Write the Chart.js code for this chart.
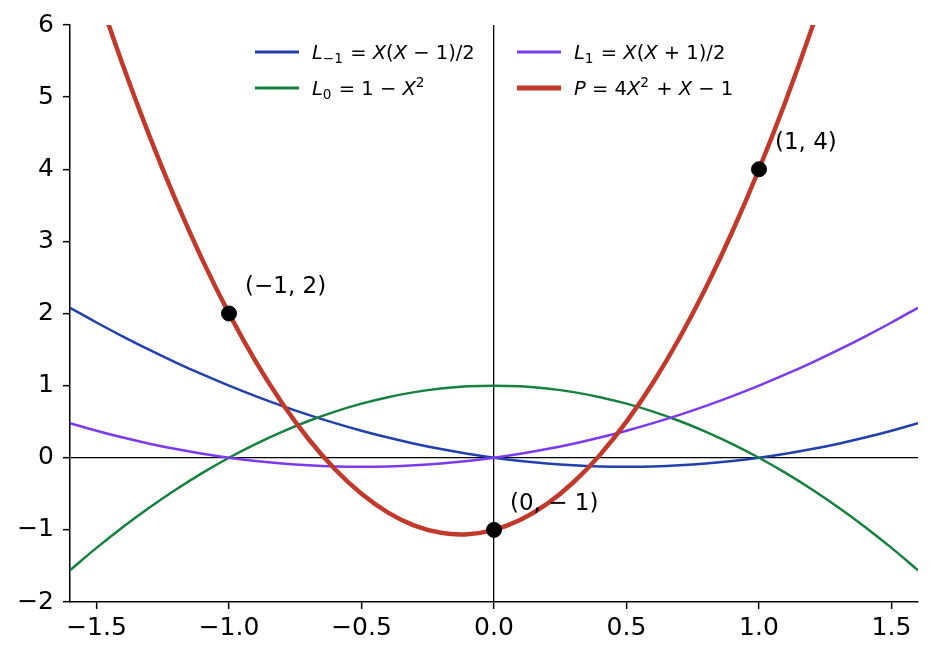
<!DOCTYPE html>
<html>
<head>
<meta charset="utf-8">
<script src="https://cdn.jsdelivr.net/npm/chart.js@4.4.1/dist/chart.umd.min.js"></script>
<style>
  html, body { margin: 0; padding: 0; background: #fff; }
  #wrap { width: 933px; height: 659px; }
</style>
</head>
<body>
<div id="wrap"><canvas id="lagrange" width="933" height="659"></canvas></div>
<script>
// sample positions along X
const xs = [-1.6, -1.5, -1.4, -1.3, -1.2, -1.1, -1.0, -0.9, -0.8, -0.7, -0.6, -0.5, -0.4, -0.3, -0.2, -0.1, 0,
            0.1, 0.2, 0.3, 0.4, 0.5, 0.6, 0.7, 0.8, 0.9, 1.0, 1.1, 1.2, 1.3, 1.4, 1.5, 1.6];

// curves
const lMinus1 = [2.08, 1.875, 1.68, 1.495, 1.32, 1.155, 1.0, 0.855, 0.72, 0.595, 0.48, 0.375, 0.28, 0.195, 0.12, 0.055, 0,
                 -0.045, -0.08, -0.105, -0.12, -0.125, -0.12, -0.105, -0.08, -0.045, 0, 0.055, 0.12, 0.195, 0.28, 0.375, 0.48];
const lZero = [-1.56, -1.25, -0.96, -0.69, -0.44, -0.21, 0, 0.19, 0.36, 0.51, 0.64, 0.75, 0.84, 0.91, 0.96, 0.99, 1.0,
               0.99, 0.96, 0.91, 0.84, 0.75, 0.64, 0.51, 0.36, 0.19, 0, -0.21, -0.44, -0.69, -0.96, -1.25, -1.56];
const lOne = [0.48, 0.375, 0.28, 0.195, 0.12, 0.055, 0, -0.045, -0.08, -0.105, -0.12, -0.125, -0.12, -0.105, -0.08, -0.045, 0,
              0.055, 0.12, 0.195, 0.28, 0.375, 0.48, 0.595, 0.72, 0.855, 1.0, 1.155, 1.32, 1.495, 1.68, 1.875, 2.08];
const pCurve = [7.64, 6.5, 5.44, 4.46, 3.56, 2.74, 2.0, 1.34, 0.76, 0.26, -0.16, -0.5, -0.76, -0.94, -1.04, -1.06, -1.0,
                -0.86, -0.64, -0.34, 0.04, 0.5, 1.04, 1.66, 2.36, 3.14, 4.0, 4.94, 5.96, 7.06, 8.24, 9.5, 10.84];

// interpolation nodes
const nodeX = [-1, 0, 1];
const nodeY = [2, -1, 4];
const nodeLabels = ['(−1, 2)', '(0, − 1)', '(1, 4)'];

const xTicks = [-1.5, -1.0, -0.5, 0.0, 0.5, 1.0, 1.5];
const yTicks = [-2, -1, 0, 1, 2, 3, 4, 5, 6];

const legendLabels = ['L_{−1} = X(X − 1)/2', 'L_{1} = X(X + 1)/2', 'L_{0} = 1 − X^{2}', 'P = 4X^{2} + X − 1'];
const colors = { blue: '#2140ae', green: '#16803f', purple: '#7c3aed', red: '#c0392b' };

const FONT = "'DejaVu Sans', sans-serif";

function pts(ys) {
    return xs.map((x, i) => ({ x: x, y: ys[i] }));
}

// tiny mathtext: capital letters italic, _{..} subscript, ^{..} superscript
function drawMath(ctx, str, x, y, size) {
    let i = 0;
    let cx = x;
    ctx.textBaseline = 'alphabetic';
    ctx.textAlign = 'left';
    while (i < str.length) {
        let ch = str[i];
        if ((ch === '_' || ch === '^') && str[i + 1] === '{') {
            const end = str.indexOf('}', i);
            const inner = str.slice(i + 2, end);
            const s = size * 0.7;
            ctx.font = s + 'px ' + FONT;
            const dy = ch === '_' ? size * 0.22 : -size * 0.42;
            ctx.fillText(inner, cx, y + dy);
            cx += ctx.measureText(inner).width + 1;
            i = end + 1;
            continue;
        }
        const italic = /[A-Z]/.test(ch);
        ctx.font = (italic ? 'italic ' : '') + size + 'px ' + FONT;
        ctx.fillText(ch, cx, y);
        cx += ctx.measureText(ch).width;
        i++;
    }
}

const overlayPlugin = {
    id: 'overlay',
    afterDatasetsDraw(chart) {
        const ctx = chart.ctx;
        const area = chart.chartArea;
        const xs_ = chart.scales.x, ys_ = chart.scales.y;
        ctx.save();

        // node labels
        ctx.fillStyle = '#000';
        ctx.font = '23px ' + FONT;
        ctx.textBaseline = 'middle';
        ctx.textAlign = 'left';
        nodeX.forEach((nx, i) => {
            const px = xs_.getPixelForValue(nx);
            const py = ys_.getPixelForValue(nodeY[i]);
            ctx.fillText(nodeLabels[i], px + 16, py - 26);
        });

        // legend, two columns
        const items = [
            { c: colors.blue, w: 3, t: legendLabels[0] },
            { c: colors.purple, w: 3, t: legendLabels[1] },
            { c: colors.green, w: 3, t: legendLabels[2] },
            { c: colors.red, w: 5, t: legendLabels[3] }
        ];
        const colX = [area.left + 185, area.left + 447];
        const rowY = [area.top + 27, area.top + 63];
        items.forEach((it, i) => {
            const lx = colX[i % 2];
            const ly = rowY[Math.floor(i / 2)];
            ctx.strokeStyle = it.c;
            ctx.lineWidth = it.w;
            ctx.beginPath();
            ctx.moveTo(lx, ly);
            ctx.lineTo(lx + 44, ly);
            ctx.stroke();
            ctx.fillStyle = '#000';
            drawMath(ctx, it.t, lx + 57, ly + 7, 19.5);
        });
        ctx.restore();
    }
};

const ctx = document.getElementById('lagrange').getContext('2d');

const chart = new Chart(ctx, {
    type: 'line',
    data: {
        datasets: [
            {
                label: 'nodes',
                type: 'scatter',
                data: nodeX.map((x, i) => ({ x: x, y: nodeY[i] })),
                backgroundColor: '#000',
                borderColor: '#000',
                pointRadius: 7.5,
                order: 0
            },
            { label: legendLabels[3], data: pts(pCurve), borderColor: colors.red, borderWidth: 4.5, order: 1 },
            { label: legendLabels[1], data: pts(lOne), borderColor: colors.purple, borderWidth: 2.5, order: 2 },
            { label: legendLabels[2], data: pts(lZero), borderColor: colors.green, borderWidth: 2.5, order: 3 },
            { label: legendLabels[0], data: pts(lMinus1), borderColor: colors.blue, borderWidth: 2.5, order: 4 }
        ]
    },
    options: {
        responsive: false,
        animation: false,
        devicePixelRatio: 1,
        elements: {
            point: { radius: 0 },
            line: { tension: 0.4, fill: false }
        },
        layout: { padding: { top: 25, right: 15, left: 0, bottom: 0 } },
        plugins: {
            legend: { display: false },
            tooltip: { enabled: false }
        },
        scales: {
            x: {
                type: 'linear',
                min: -1.6,
                max: 1.6,
                afterBuildTicks: (scale) => { scale.ticks = xTicks.map(v => ({ value: v })); },
                afterFit: (scale) => { scale.height = 57; },
                border: { display: true, color: '#000', width: 1.5 },
                grid: {
                    drawOnChartArea: true,
                    color: (c) => (c.tick && c.tick.value === 0 ? '#000' : 'rgba(0,0,0,0)'),
                    lineWidth: 1.3,
                    tickColor: '#000',
                    tickLength: 7,
                    tickWidth: 1.5
                },
                ticks: {
                    color: '#000',
                    font: { family: FONT, size: 25 },
                    padding: 4,
                    maxRotation: 0,
                    callback: (v) => Number(v).toFixed(1).replace('-', '−')
                }
            },
            y: {
                type: 'linear',
                min: -2,
                max: 6,
                afterBuildTicks: (scale) => { scale.ticks = yTicks.map(v => ({ value: v })); },
                afterFit: (scale) => { scale.width = 70; },
                border: { display: true, color: '#000', width: 1.5 },
                grid: {
                    drawOnChartArea: true,
                    color: (c) => (c.tick && c.tick.value === 0 ? '#000' : 'rgba(0,0,0,0)'),
                    lineWidth: 1.3,
                    tickColor: '#000',
                    tickLength: 7,
                    tickWidth: 1.5
                },
                ticks: {
                    color: '#000',
                    font: { family: FONT, size: 25 },
                    padding: 9,
                    callback: (v) => String(v).replace('-', '−')
                }
            }
        }
    },
    plugins: [overlayPlugin]
});
</script>
</body>
</html>
